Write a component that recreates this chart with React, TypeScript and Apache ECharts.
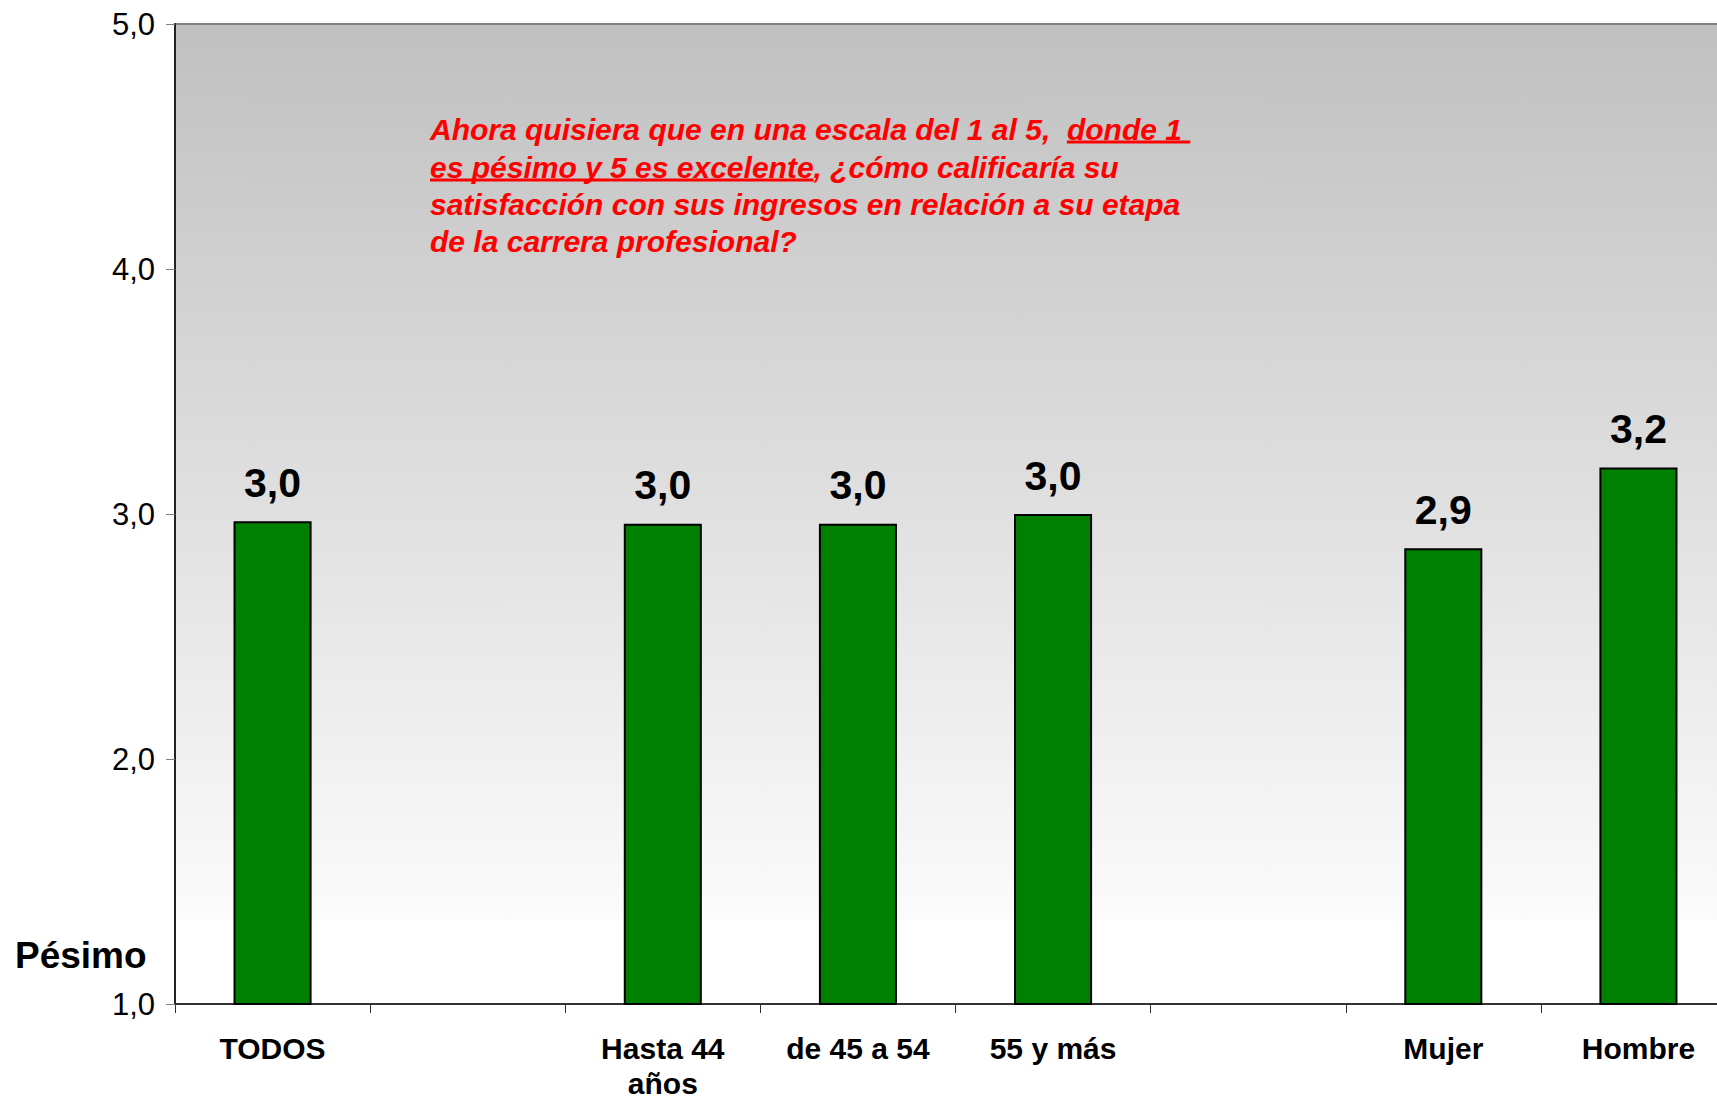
import React, { useEffect, useRef } from "react";
import * as echarts from "echarts";

// Categories along the x axis (blank slots separate the groups)
const categories: string[] = [
  "TODOS",
  "",
  "Hasta 44\naños",
  "de 45 a 54",
  "55 y más",
  "",
  "Mujer",
  "Hombre",
];

// Average satisfaction score (1 = pésimo, 5 = excelente)
const scores: (number | null)[] = [2.97, null, 2.96, 2.96, 3.0, null, 2.86, 3.19];

// Value axis range
const axisMin = 1;
const axisMax = 5;
const axisStep = 1;

// Question text, split into runs; underlined runs flagged
const questionLines: { text: string; underline: boolean }[][] = [
  [
    { text: "Ahora quisiera que en una escala del 1 al 5,  ", underline: false },
    { text: "donde 1 ", underline: true },
  ],
  [
    { text: "es pésimo y 5 es excelente", underline: true },
    { text: ", ¿cómo calificaría su", underline: false },
  ],
  [{ text: "satisfacción con sus ingresos en relación a su etapa", underline: false }],
  [{ text: "de la carrera profesional?", underline: false }],
];

const comma = (v: number) => v.toFixed(1).replace(".", ",");

const FONT = "'Liberation Sans', Arial, Helvetica, sans-serif";

export default function App() {
  const ref = useRef<HTMLDivElement>(null);

  useEffect(() => {
    if (!ref.current) return;
    const chart = echarts.init(ref.current, null, { renderer: "svg" });

    // measure run widths so the underlines follow the question text
    const qSize = 30;
    const canvas = document.createElement("canvas");
    const ctx = canvas.getContext("2d")!;
    ctx.font = `italic bold ${qSize}px ${FONT}`;
    const qLeft = 430;
    const qTops = [129, 167, 204, 241];
    const graphics: any[] = [];
    questionLines.forEach((runs, li) => {
      let x = qLeft;
      runs.forEach((run) => {
        const w = ctx.measureText(run.text).width;
        graphics.push({
          type: "text",
          x,
          y: qTops[li],
          silent: true,
          style: {
            text: run.text,
            fill: "#ff0000",
            fontSize: qSize,
            fontWeight: "bold",
            fontStyle: "italic",
            fontFamily: FONT,
            align: "left",
            verticalAlign: "middle",
            textAlign: "left",
            textVerticalAlign: "middle",
          },
        });
        if (run.underline) {
          graphics.push({
            type: "line",
            silent: true,
            shape: { x1: x, y1: qTops[li] + 13, x2: x + w, y2: qTops[li] + 13 },
            style: { stroke: "#ff0000", lineWidth: 3 },
          });
        }
        x += w;
      });
    });

    // scale end captions
    const endCaption = (text: string, y: number) => ({
      type: "text",
      x: 15,
      y,
      silent: true,
      style: {
        text,
        fill: "#000000",
        fontSize: 37,
        fontWeight: "bold",
        fontFamily: FONT,
        align: "left",
        verticalAlign: "middle",
        textAlign: "left",
        textVerticalAlign: "middle",
      },
    });
    graphics.push(endCaption("Excelente", -13));
    graphics.push(endCaption("Pésimo", 955));

    chart.setOption({
      animation: false,
      backgroundColor: "#ffffff",
      grid: {
        left: 175,
        right: -19,
        top: 24,
        bottom: 96,
        containLabel: false,
        outerBoundsMode: "none",
        show: true,
        borderColor: "#808080",
        borderWidth: 2,
        backgroundColor: new echarts.graphic.LinearGradient(0, 0, 0, 1, [
          { offset: 0, color: "#c0c0c0" },
          { offset: 0.912, color: "#fbfbfb" },
          { offset: 0.916, color: "#ffffff" },
          { offset: 1, color: "#ffffff" },
        ]),
      },
      xAxis: {
        type: "category",
        data: categories,
        axisLine: { show: true, lineStyle: { color: "#333333", width: 2 } },
        axisTick: {
          show: true,
          alignWithLabel: false,
          length: 9,
          lineStyle: { color: "#333333", width: 1 },
        },
        axisLabel: {
          interval: 0,
          margin: 27,
          color: "#000000",
          fontSize: 30,
          fontWeight: "bold",
          fontFamily: FONT,
          lineHeight: 35,
        },
        splitLine: { show: false },
      },
      yAxis: {
        type: "value",
        min: axisMin,
        max: axisMax,
        interval: axisStep,
        axisLine: { show: true, lineStyle: { color: "#222222", width: 2 } },
        axisTick: { show: true, length: 9, lineStyle: { color: "#808080", width: 1 } },
        axisLabel: {
          margin: 20,
          color: "#000000",
          fontSize: 31,
          fontFamily: FONT,
          formatter: (v: number) => comma(v),
        },
        splitLine: { show: false },
      },
      series: [
        {
          type: "bar",
          data: scores,
          barWidth: "40%",
          itemStyle: { color: "#008000", borderColor: "#000000", borderWidth: 2 },
          label: {
            show: true,
            position: "top",
            distance: 18,
            color: "#000000",
            fontSize: 41,
            fontWeight: "bold",
            fontFamily: FONT,
            formatter: (p: any) => comma(p.value as number),
          },
        },
      ],
      graphic: graphics,
    });

    return () => chart.dispose();
  }, []);

  return (
    <div
      ref={ref}
      style={{ position: "fixed", left: 0, top: 0, width: 1717, height: 1100 }}
    />
  );
}
